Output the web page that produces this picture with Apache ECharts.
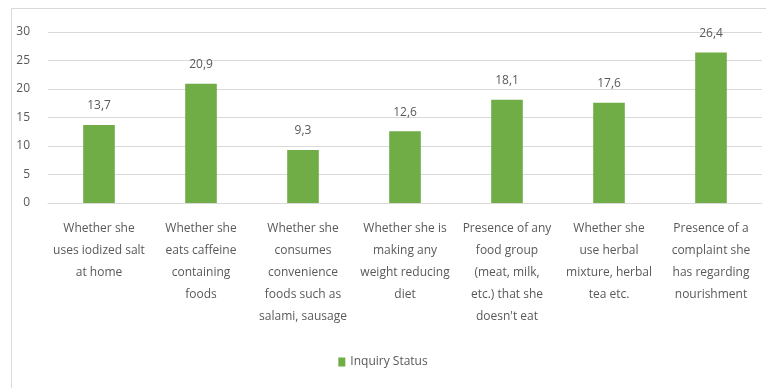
<!DOCTYPE html>
<html>
<head>
<meta charset="utf-8">
<script src="https://cdn.jsdelivr.net/npm/echarts@6/dist/echarts.min.js"></script>
<style>html,body{margin:0;padding:0;background:#fff;}#c{width:766px;height:388px;}</style>
</head>
<body>
<div id="c"></div>
<script>
const categories = [
  "Whether she\nuses iodized salt\nat home",
  "Whether she\neats caffeine\ncontaining\nfoods",
  "Whether she\nconsumes\nconvenience\nfoods such as\nsalami, sausage",
  "Whether she is\nmaking any\nweight reducing\ndiet",
  "Presence of any\nfood group\n(meat, milk,\netc.) that she\ndoesn't eat",
  "Whether she\nuse herbal\nmixture, herbal\ntea etc.",
  "Presence of a\ncomplaint she\nhas regarding\nnourishment"
];
const inquiryStatus = [13.7, 20.9, 9.3, 12.6, 18.1, 17.6, 26.4];
const seriesName = "Inquiry Status";
const yTicks = { min: 0, max: 30, interval: 5 };

const chart = echarts.init(document.getElementById('c'), null, { renderer: 'canvas' });
const font = "'Open Sans', sans-serif";
chart.setOption({
  animation: false,
  backgroundColor: '#fff',
  textStyle: { fontFamily: font },
  graphic: [{
    type: 'rect', silent: true, z: -1,
    shape: { x: 11.5, y: 8.5, width: 770, height: 400 },
    style: { fill: 'none', stroke: '#d9d9d9', lineWidth: 1 }
  }],
  grid: { left: 48, right: 4, top: 32, bottom: 185, containLabel: false },
  legend: {
    bottom: 15, left: 'center',
    itemWidth: 7, itemHeight: 9, itemGap: 10,
    icon: 'rect',
    textStyle: { color: '#595959', fontSize: 12, fontFamily: font },
    data: [seriesName]
  },
  xAxis: {
    type: 'category',
    data: categories,
    axisLine: { show: true, lineStyle: { color: '#d9d9d9' } },
    axisTick: { show: false },
    axisLabel: {
      interval: 0, color: '#595959', fontSize: 12, fontFamily: font,
      lineHeight: 22, margin: 15
    }
  },
  yAxis: {
    type: 'value', min: yTicks.min, max: yTicks.max, interval: yTicks.interval,
    axisLine: { show: false }, axisTick: { show: false },
    splitLine: { lineStyle: { color: '#d9d9d9' } },
    axisLabel: { color: '#595959', fontSize: 12, fontFamily: font, margin: 18 }
  },
  series: [{
    name: seriesName,
    type: 'bar',
    data: inquiryStatus,
    barWidth: '31%',
    itemStyle: { color: '#70AD47' },
    label: {
      show: true, position: 'top', distance: 13,
      color: '#595959', fontSize: 12, fontFamily: font,
      formatter: p => p.value.toFixed(1).replace('.', ',')
    }
  }]
});
</script>
</body>
</html>
